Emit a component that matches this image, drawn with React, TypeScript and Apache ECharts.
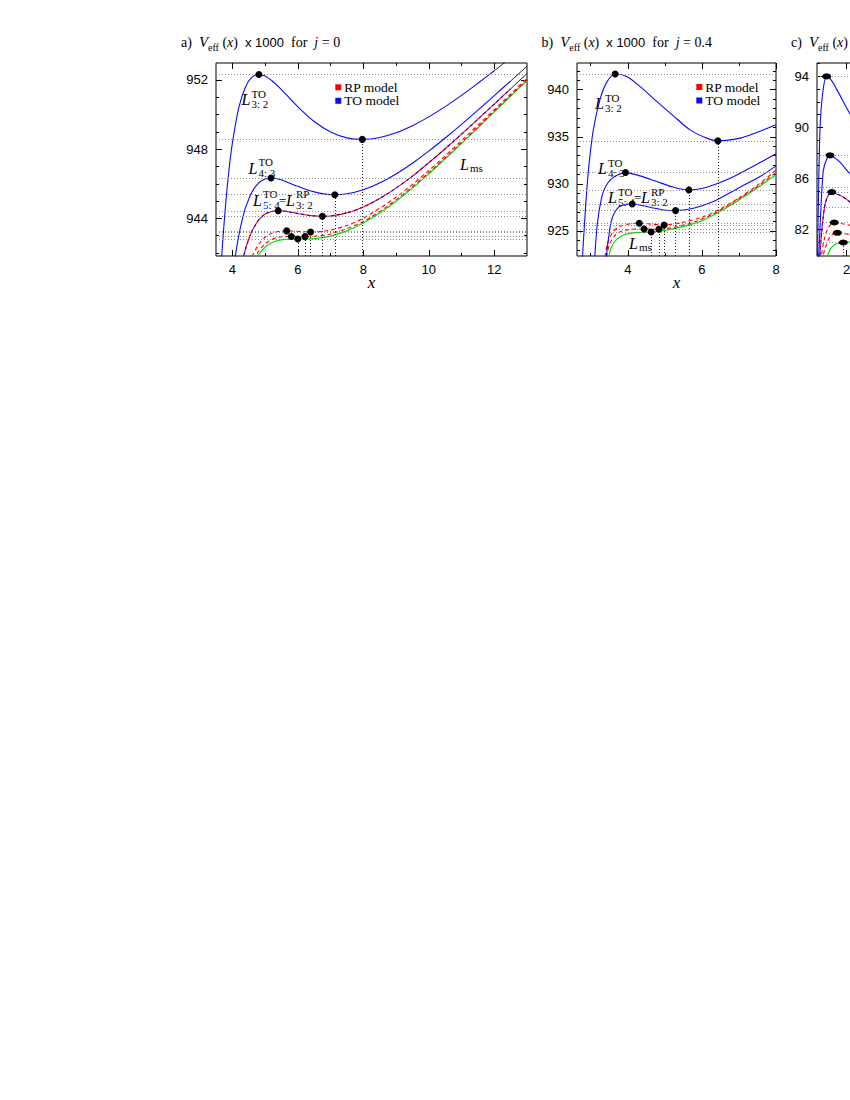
import React, { useEffect, useRef } from "react";
import * as echarts from "echarts";

// ---------------- Panel a: j = 0 ----------------
const aXTicks = [4, 6, 8, 10, 12];
const aXMinor = [5, 7, 9, 11];
const aYTicks = [944, 948, 952];
const aYMinor = [942, 943, 945, 946, 947, 949, 950, 951];
const aL32 = [[3.65, 941.12], [3.7, 942.54], [3.8, 944.94], [3.9, 946.85], [4.0, 948.35], [4.2, 950.42], [4.4, 951.59], [4.6, 952.15], [4.8, 952.31], [5.0, 952.22], [5.2, 951.96], [5.4, 951.62], [5.6, 951.23], [6.0, 950.44], [6.5, 949.59], [7.0, 948.99], [7.5, 948.65], [8.0, 948.56], [8.5, 948.67], [9.0, 948.94], [9.5, 949.35], [10, 949.86], [10.5, 950.45], [11, 951.1], [11.5, 951.8], [12, 952.52]];
const aL32Tail = [[12, 952.52], [12.5, 953.26]];
const aL43 = [[4.0, 940.58], [4.1, 941.95], [4.2, 943.05], [4.3, 943.92], [4.4, 944.61], [4.6, 945.53], [4.8, 946.04], [5.0, 946.28], [5.2, 946.33], [5.4, 946.27], [5.6, 946.15], [6.0, 945.85], [6.5, 945.53], [7.0, 945.37], [7.5, 945.42], [8.0, 945.65], [8.5, 946.04], [9.0, 946.56], [9.5, 947.18], [10, 947.88], [10.5, 948.64], [11, 949.43], [11.5, 950.25], [12, 951.09], [12.5, 951.93]];
const aL43Tail = [[12.5, 951.93], [13, 952.78]];
const aL54 = [[4.2, 940.53], [4.3, 941.47], [4.4, 942.22], [4.5, 942.81], [4.6, 943.27], [4.8, 943.9], [5.0, 944.25], [5.2, 944.4], [5.4, 944.44], [5.6, 944.42], [6.0, 944.28], [6.4, 944.16], [6.8, 944.12], [7.0, 944.14], [7.5, 944.32], [8.0, 944.66], [8.5, 945.15], [9.0, 945.75], [9.5, 946.44], [10, 947.21], [10.5, 948.02], [11, 948.86], [11.5, 949.73], [12, 950.6], [12.5, 951.48]];
const aL54Tail = [[12.5, 951.48], [13, 952.36]];
const aRP1 = [[4.4, 940.65], [4.5, 941.28], [4.6, 941.79], [4.8, 942.49], [5.0, 942.91], [5.2, 943.14], [5.4, 943.24], [5.6, 943.28], [5.8, 943.27], [6.0, 943.25], [6.2, 943.23], [6.4, 943.22], [6.6, 943.23], [7.0, 943.33], [7.5, 943.59], [8.0, 944.01], [9.0, 945.22], [10, 946.76], [11, 948.49], [12, 950.28], [13, 952.08]];
const aRP2 = [[4.5, 940.84], [4.6, 941.36], [4.8, 942.09], [5.0, 942.53], [5.2, 942.77], [5.4, 942.9], [5.6, 942.95], [5.8, 942.96], [6.0, 942.96], [6.2, 942.95], [6.4, 942.96], [7.0, 943.1], [8.0, 943.82], [9.0, 945.07], [10, 946.64], [11, 948.38], [12, 950.19], [13, 952.0]];
const aMS = [[4.6, 941.15], [4.7, 941.56], [4.8, 941.89], [5.0, 942.34], [5.2, 942.59], [5.4, 942.73], [5.6, 942.79], [5.8, 942.8], [6.0, 942.81], [6.2, 942.81], [6.4, 942.82], [6.6, 942.85], [7.0, 942.98], [7.5, 943.28], [8.0, 943.73], [8.5, 944.31], [9.0, 944.99], [9.5, 945.75], [10, 946.57], [10.5, 947.44], [11, 948.33], [11.5, 949.23], [12, 950.15], [12.5, 951.06], [13, 951.96]];
const aExtrema = [[4.81, 952.31], [7.97, 948.56], [5.18, 946.33], [7.13, 945.37], [5.4, 944.44], [6.75, 944.12], [5.66, 943.28], [6.39, 943.22], [5.8, 942.96], [6.22, 942.95], [6.0, 942.81]];
const aMinima = [[7.97, 948.56], [7.13, 945.37], [6.75, 944.12], [6.39, 943.22], [6.22, 942.95], [6.0, 942.81]];

// ---------------- Panel b: j = 0.4 ----------------
const bXTicks = [4, 6, 8];
const bXMinor = [3, 5, 7];
const bYTicks = [925, 930, 935, 940];
const bYMinor = [923, 924, 926, 927, 928, 929, 931, 932, 933, 934, 936, 937, 938, 939, 941, 942];
const bL32 = [[2.76, 921.0], [2.85, 926.88], [2.94, 931.49], [3.07, 935.74], [3.25, 938.94], [3.43, 940.78], [3.66, 941.67], [3.97, 941.41], [4.33, 940.35], [4.78, 938.76], [5.23, 937.23], [5.68, 935.74], [6.13, 934.86], [6.43, 934.57], [7.03, 934.86], [7.48, 935.46], [8.0, 936.28]];
const bL43 = [[3.1, 921.5], [3.18, 925.82], [3.3, 928.65], [3.4, 929.7], [3.55, 930.5], [3.75, 931.0], [3.94, 931.2], [4.33, 930.85], [4.78, 930.25], [5.23, 929.65], [5.65, 929.36], [6.13, 929.65], [6.67, 930.43], [7.21, 931.49], [8.0, 933.19]];
const bL54 = [[3.4, 921.5], [3.48, 924.22], [3.57, 926.24], [3.75, 927.52], [3.95, 927.82], [4.12, 927.87], [4.6, 927.52], [4.96, 927.23], [5.29, 927.16], [5.77, 927.41], [6.31, 928.12], [7.03, 929.65], [7.57, 930.78], [8.0, 931.91]];
const bRP1 = [[3.36, 921.5], [3.45, 923.6], [3.6, 924.9], [3.8, 925.5], [4.05, 925.75], [4.31, 925.82], [4.65, 925.72], [4.98, 925.64], [5.4, 925.85], [6.0, 926.45], [6.5, 927.35], [7.0, 928.5], [7.5, 929.85], [8.0, 931.45]];
const bRP2 = [[3.4, 921.5], [3.5, 923.5], [3.65, 924.5], [3.85, 925.0], [4.1, 925.17], [4.44, 925.21], [4.65, 925.19], [4.84, 925.18], [5.2, 925.35], [5.8, 925.95], [6.3, 926.8], [6.8, 927.95], [7.4, 929.45], [8.0, 931.2]];
const bMS = [[3.45, 921.5], [3.55, 923.2], [3.7, 924.1], [3.9, 924.6], [4.2, 924.82], [4.63, 924.89], [5.0, 925.05], [5.41, 925.4], [5.95, 926.0], [6.5, 927.1], [7.0, 928.3], [7.5, 929.6], [8.0, 930.96]];
const bExtrema = [[3.66, 941.67], [6.43, 934.57], [3.94, 931.2], [5.65, 929.36], [4.12, 927.87], [5.29, 927.16], [4.31, 925.82], [4.98, 925.64], [4.44, 925.21], [4.84, 925.18], [4.63, 924.89]];
const bMinima = [[6.43, 934.57], [5.65, 929.36], [5.29, 927.16], [4.98, 925.64], [4.84, 925.18], [4.63, 924.89]];

// ---------------- Panel c (cut off at the page edge) ----------------
const cXTicks = [2, 4, 6];
const cXMinor = [3, 5];
const cYTicks = [82, 86, 90, 94];
const cYMinor = [80, 81, 83, 84, 85, 87, 88, 89, 91, 92, 93, 95];
const cL1 = [[1.21, 79.5], [1.24, 84.5], [1.28, 89.75], [1.35, 92.6], [1.46, 94.0], [1.6, 93.65], [1.73, 93.0], [2.09, 91.06], [2.4, 89.6]];
const cL2 = [[1.24, 79.5], [1.3, 83.23], [1.37, 86.6], [1.46, 87.5], [1.55, 87.8], [1.68, 87.6], [1.82, 87.27], [2.09, 86.36], [2.4, 85.6]];
const cL3 = [[1.27, 79.5], [1.33, 81.93], [1.42, 84.0], [1.52, 84.75], [1.6, 84.92], [1.75, 84.75], [1.91, 84.53], [2.09, 84.14], [2.4, 83.6]];
const cRP1 = [[1.3, 79.5], [1.38, 81.0], [1.5, 82.1], [1.67, 82.53], [1.85, 82.45], [2.09, 82.32], [2.4, 82.2]];
const cRP2 = [[1.33, 79.5], [1.42, 80.5], [1.55, 81.4], [1.75, 81.72], [1.95, 81.65], [2.09, 81.6], [2.4, 81.55]];
const cMS = [[1.44, 79.5], [1.52, 80.2], [1.6, 80.6], [1.75, 80.88], [1.91, 80.96], [2.1, 81.0], [2.4, 81.1]];
const cExtrema = [[1.46, 94.0], [1.55, 87.8], [1.6, 84.92], [1.67, 82.53], [1.75, 81.72], [1.91, 80.96]];
const cMinima = [[1.91, 80.96]];
const cOtherLevels = [85.3, 83.75];

const SANS = '"Liberation Sans", Arial, sans-serif';
const SERIF = '"Liberation Serif", "Times New Roman", serif';
const BLUE = "#0a0aff";
const RED = "#ff0000";
const GREEN = "#00dd00";

const RANGES = [
  { xMin: 3.5, xMax: 13, yMin: 941.83, yMax: 952.97 },
  { xMin: 2.63, xMax: 8, yMin: 922.34, yMax: 942.84 },
  { xMin: 1.2, xMax: 6.6, yMin: 79.9, yMax: 95.05 },
];

function axisSet(g: number, dim: string, min: number, max: number, major: number[], minor: number[], name?: string) {
  const isX = dim === "x";
  const base: any = { type: "value", gridIndex: g, min, max, splitLine: { show: false }, axisLine: { show: false }, silent: true };
  const tick = (vals: number[], len: number) => ({ show: true, inside: true, length: len, customValues: vals, lineStyle: { color: "#000", width: 1 } });
  const main: any = {
    ...base,
    position: isX ? "bottom" : "left",
    axisTick: tick(major, 6),
    axisLabel: { show: true, customValues: major, color: "#000", fontFamily: SANS, fontSize: 13, margin: isX ? 7 : 8 },
  };
  if (name) {
    Object.assign(main, {
      name, nameLocation: "middle", nameGap: 18, nameMoveOverlap: false,
      nameTextStyle: { fontFamily: SERIF, fontStyle: "italic", fontSize: 17, color: "#000" },
    });
  }
  const hidden = { show: false };
  return [
    main,
    { ...base, position: isX ? "bottom" : "left", axisTick: tick(minor, 3), axisLabel: hidden },
    { ...base, position: isX ? "top" : "right", axisTick: tick(major, 6), axisLabel: hidden },
    { ...base, position: isX ? "top" : "right", axisTick: tick(minor, 3), axisLabel: hidden },
  ];
}

function curve(g: number, data: number[][], color: string, width = 1.1, dash: any = "solid", z = 3) {
  return {
    type: "line", xAxisIndex: g * 4, yAxisIndex: g * 4, data, symbol: "none", showSymbol: false,
    smooth: 0.3, clip: true, silent: true, z,
    lineStyle: { color, width, type: dash },
  };
}

function guides(g: number, pts: number[][], minima: number[][], yMin: number, extra: number[] = []) {
  const hs = [...pts.map((p) => p[1]), ...extra].map((v) => ({ yAxis: v, lineStyle: { color: "#8a8a8a", width: 1, type: [1, 2] } }));
  const vs = minima.map((p) => [{ coord: [p[0], yMin], lineStyle: { color: "#222", width: 1, type: [1, 2] } }, { coord: [p[0], p[1]] }]);
  return {
    type: "scatter", xAxisIndex: g * 4, yAxisIndex: g * 4, data: pts, symbolSize: 0, z: 1, silent: true,
    markLine: { symbol: ["none", "none"], silent: true, animation: false, label: { show: false }, data: [...hs, ...vs] },
  };
}

function dots(g: number, pts: number[][], size: any) {
  return { type: "scatter", xAxisIndex: g * 4, yAxisIndex: g * 4, data: pts, symbol: "circle", symbolSize: size, itemStyle: { color: "#000", opacity: 1 }, z: 10, silent: true };
}

function txt(x: number, y: number, text: string, font: string, fill = "#000", rich?: any) {
  return {
    type: "text", x, y, silent: true,
    style: { text, font, fill, rich, align: "left", verticalAlign: "middle", textAlign: "left", textVerticalAlign: "middle" },
  };
}

const L_FONT = `italic 16px ${SERIF}`;
const S_FONT = `11px ${SERIF}`;

function lab(x: number, y: number, sup: string, sub: string, subRich?: any): any[] {
  return [
    txt(x, y, "L", L_FONT),
    txt(x + 10, y - 6, sup, S_FONT),
    txt(x + 10, y + 4.5, sub, S_FONT, "#000", subRich),
  ];
}

function combo(x: number, y: number, blueFive: boolean): any[] {
  const sub5 = blueFive ? "{b|5}{k|: 4}" : "5: 4";
  const rich5 = blueFive
    ? { b: { fill: BLUE, color: BLUE, fontFamily: SERIF, fontSize: 11 }, k: { fill: "#000", color: "#000", fontFamily: SERIF, fontSize: 11 } }
    : undefined;
  return [
    ...lab(x, y, "TO", sub5, rich5),
    txt(x + 26, y, "=", `13px ${SERIF}`),
    ...lab(x + 33, y, "RP", "3: 2"),
  ];
}

function title(x: number, y: number, label: string, tail: string) {
  const rich = {
    t: { fontFamily: SERIF, fontSize: 14, lineHeight: 21, verticalAlign: "middle", fill: "#000" },
    v: { fontFamily: SERIF, fontStyle: "italic", fontSize: 15, lineHeight: 21, verticalAlign: "middle", fill: "#000" },
    s: { fontFamily: SERIF, fontSize: 10, lineHeight: 12, verticalAlign: "bottom", fill: "#000" },
    i: { fontFamily: SERIF, fontStyle: "italic", fontSize: 14, lineHeight: 21, verticalAlign: "middle", fill: "#000" },
    h: { fontFamily: SANS, fontSize: 13, lineHeight: 21, verticalAlign: "middle", fill: "#000" },
  };
  return {
    type: "text", x, y, silent: true,
    style: { text: `{t|${label}  }{v|V}{s|eff}{t| (}{i|x}{t|)}${tail}`, rich, fill: "#000", verticalAlign: "middle", textVerticalAlign: "middle" },
  };
}

function legend(x: number, y: number): any[] {
  return [
    { type: "rect", silent: true, shape: { x: x - 3, y: y - 3, width: 6, height: 6 }, style: { fill: RED } },
    txt(x + 6, y, "RP model", `13.5px ${SERIF}`),
    { type: "rect", silent: true, shape: { x: x - 3, y: y + 10.5, width: 6, height: 6 }, style: { fill: BLUE } },
    txt(x + 6, y + 13.5, "TO model", `13.5px ${SERIF}`),
  ];
}

export default function App() {
  const ref = useRef<HTMLDivElement>(null);
  useEffect(() => {
    if (!ref.current) return;
    const chart = echarts.init(ref.current, null, { renderer: "svg" });
    const ra = RANGES[0], rb = RANGES[1], rc = RANGES[2];
    const gridStyle = { show: true, borderColor: "#000", borderWidth: 1, backgroundColor: "transparent", containLabel: false, outerBoundsMode: "none" };
    const option: any = {
      animation: false,
      backgroundColor: "#fff",
      grid: [
        { ...gridStyle, left: 216, top: 63, width: 311, height: 193 },
        { ...gridStyle, left: 577, top: 63, width: 199, height: 193 },
        { ...gridStyle, left: 817, top: 63, width: 200, height: 193 },
      ],
      xAxis: [
        ...axisSet(0, "x", ra.xMin, ra.xMax, aXTicks, aXMinor, "x"),
        ...axisSet(1, "x", rb.xMin, rb.xMax, bXTicks, bXMinor, "x"),
        ...axisSet(2, "x", rc.xMin, rc.xMax, cXTicks, cXMinor),
      ],
      yAxis: [
        ...axisSet(0, "y", ra.yMin, ra.yMax, aYTicks, aYMinor),
        ...axisSet(1, "y", rb.yMin, rb.yMax, bYTicks, bYMinor),
        ...axisSet(2, "y", rc.yMin, rc.yMax, cYTicks, cYMinor),
      ],
      series: [
        // panel a
        guides(0, aExtrema, aMinima, ra.yMin),
        curve(0, aMS, GREEN, 1.2),
        curve(0, aRP2, RED, 1.1, [4, 3]),
        curve(0, aRP1, RED, 1.1, [4, 3]),
        curve(0, aL54, RED, 1.1),
        curve(0, aL54, BLUE, 1.1, [3, 3], 4),
        curve(0, aL43, BLUE),
        curve(0, aL32, BLUE),
        curve(0, aL32Tail, "#000", 0.9),
        curve(0, aL43Tail, "#000", 0.9),
        curve(0, aL54Tail, "#000", 0.9),
        dots(0, aExtrema, 7),
        // panel b
        guides(1, bExtrema, bMinima, rb.yMin),
        curve(1, bMS, GREEN, 1.2),
        curve(1, bRP2, RED, 1.1, [4, 3]),
        curve(1, bRP1, RED, 1.1, [4, 3]),
        curve(1, bL54, BLUE),
        curve(1, bL43, BLUE),
        curve(1, bL32, BLUE),
        dots(1, bExtrema, 7),
        // panel c
        guides(2, cExtrema, cMinima, rc.yMin, cOtherLevels),
        curve(2, cMS, GREEN, 1.2),
        curve(2, cRP2, RED, 1.1, [4, 3]),
        curve(2, cRP1, RED, 1.1, [4, 3]),
        curve(2, cL3, RED, 1.1),
        curve(2, cL3, BLUE, 1.1, [3, 3], 4),
        curve(2, cL2, BLUE),
        curve(2, cL1, BLUE),
        dots(2, cExtrema, [9, 6]),
      ],
      graphic: [
        title(181, 42, "a)", "{t|  }{h|x 1000}{t|  for  }{i|j}{t| = 0}"),
        title(541.5, 42, "b)", "{t|  }{h|x 1000}{t|  for  }{i|j}{t| = 0.4}"),
        title(791, 42, "c)", ""),
        ...legend(338.3, 87.3),
        ...legend(699.3, 87),
        // panel a labels
        ...lab(241.5, 99.5, "TO", "3: 2"),
        ...lab(248.5, 168, "TO", "4: 3"),
        ...combo(253, 200, true),
        txt(460, 164, "L", L_FONT),
        txt(470, 167.5, "ms", S_FONT),
        // panel b labels
        ...lab(595, 103.5, "TO", "3: 2"),
        ...lab(598, 168.5, "TO", "4: 3"),
        ...combo(608, 197.5, false),
        txt(629, 243.5, "L", L_FONT),
        txt(639, 247, "ms", S_FONT),
      ],
    };
    chart.setOption(option);
    return () => chart.dispose();
  }, []);
  return (
    <div style={{ position: "absolute", left: 0, top: 0, width: 850, height: 300, overflow: "hidden" }}>
      <div ref={ref} style={{ width: 850, height: 300 }} />
    </div>
  );
}
